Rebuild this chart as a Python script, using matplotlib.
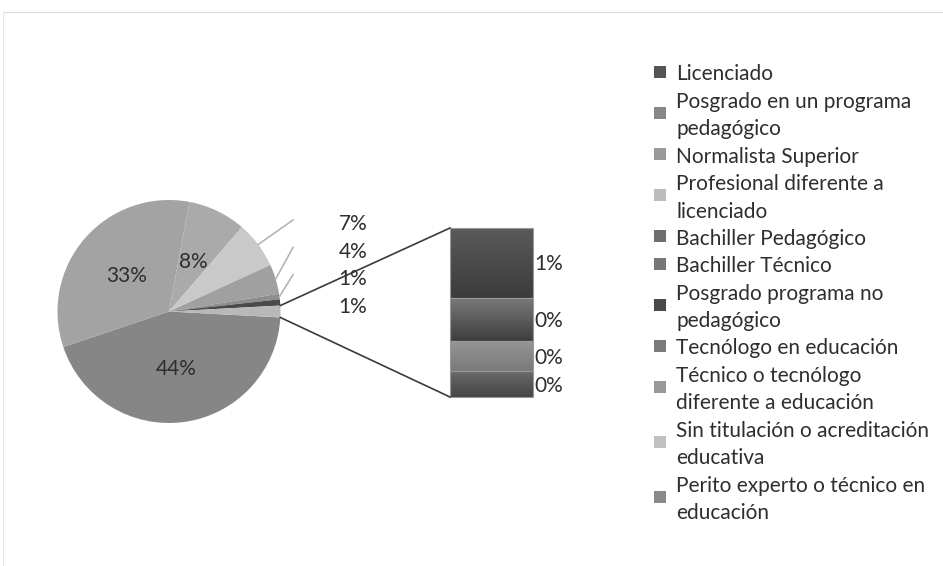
import numpy as np
import matplotlib.pyplot as plt
from matplotlib.patches import Rectangle
from matplotlib.colors import to_rgb

plt.rcParams['font.family'] = ['Lato', 'DejaVu Sans']

####################################################################################
### Data
####################################################################################

categorias = [
    "Licenciado",
    "Posgrado en un programa\npedagógico",
    "Normalista Superior",
    "Profesional diferente a\nlicenciado",
    "Bachiller Pedagógico",
    "Bachiller Técnico",
    "Posgrado programa no\npedagógico",
    "Tecnólogo en educación",
    "Técnico o tecnólogo\ndiferente a educación",
    "Sin titulación o acreditación\neducativa",
    "Perito experto o técnico en\neducación",
]
porcentajes = [44.0, 33.1, 8.4, 6.8, 4.3, 0.8, 0.9, 0.7, 0.44, 0.3, 0.26]
n_pie = 7  # the rest goes to the bar

pie_vals = porcentajes[:n_pie] + [sum(porcentajes[n_pie:])]
bar_vals = porcentajes[n_pie:]

####################################################################################
### Styles
####################################################################################

pie_colors = ['#868686', '#a3a3a3', '#aaaaaa', '#c9c9c9', '#a0a0a0', '#8e8e8e', '#4a4a4a', '#b8b8b8']
legend_colors = ['#555555', '#878787', '#9a9a9a', '#bcbcbc', '#6e6e6e', '#777777', '#4a4a4a',
                 '#7a7a7a', '#999999', '#c0c0c0', '#8a8a8a']
bar_grad = [('#5a5a5a', '#3c3c3c'), ('#7a7a7a', '#3e3e3e'), ('#959595', '#7a7a7a'), ('#6a6a6a', '#454545')]
text_c = '#2e2e2e'
fs = 15
cap_half = 7.5  # half cap height in px, used to centre text on a line

W, H = 943, 566
fig = plt.figure(figsize=(W / 100, H / 100), dpi=100)
fig.patch.set_facecolor('white')
ax = fig.add_axes([0, 0, 1, 1])

def label(x, y, s, ha='center'):
    ax.text(x, y - cap_half, s, ha=ha, va='baseline', fontsize=fs, color=text_c, zorder=5)

####################################################################################
### Pie (pixel coordinates, y up)
####################################################################################

pc = (169, 254.5)
R = 111.5
tot = sum(pie_vals)
other_deg = pie_vals[-1] * 360 / tot
wedges, _ = ax.pie(pie_vals, center=pc, radius=R, counterclock=False,
                   startangle=-other_deg / 2, colors=pie_colors,
                   wedgeprops=dict(linewidth=0))

def pct(v):
    return f"{round(v / tot * 100):.0f}%"

def mid_angle(w):
    return np.deg2rad((w.theta1 + w.theta2) / 2)

# labels inside the pie
for i in range(3):
    a = mid_angle(wedges[i])
    label(pc[0] + 0.51 * R * np.cos(a), pc[1] + 0.51 * R * np.sin(a), pct(pie_vals[i]))

# labels outside with leader lines
lab_x = 353
lab_y0 = H - 223
lab_dy = 27.4
for k, i in enumerate(range(3, n_pie)):
    ly = lab_y0 - k * lab_dy
    label(lab_x, ly, pct(pie_vals[i]))
    if k < 3:
        a = mid_angle(wedges[i])
        ax.plot([pc[0] + R * np.cos(a), 293], [pc[1] + R * np.sin(a), ly + 3],
                color='#b5b5b5', lw=1.2)

####################################################################################
### Bar of the small categories
####################################################################################

bar_x = 491.5
bar_w = 83
bar_bottom = H - 397
bar_h = 169
scale = bar_h / sum(bar_vals)
heights = [v * scale for v in bar_vals[::-1]]
bottoms = bar_bottom + np.concatenate([[0], np.cumsum(heights)[:-1]])
bars = ax.bar(bar_x, heights, bottom=bottoms, width=bar_w, color='none',
              edgecolor='#9a9a9a', linewidth=0.8, zorder=3)

for p, (ctop, cbot) in zip(bars.patches, bar_grad[::-1]):
    x0, y0 = p.get_x(), p.get_y()
    x1, y1 = x0 + p.get_width(), y0 + p.get_height()
    t = np.linspace(0, 1, 64)[:, None]
    img = (1 - t) * np.array(to_rgb(cbot)) + t * np.array(to_rgb(ctop))
    im = ax.imshow(img[:, None, :].repeat(2, axis=1), extent=(x0, x1, y0, y1),
                   origin='lower', aspect='auto', zorder=2)
    im.set_clip_path(p)

for p, v in zip(bars.patches, bar_vals[::-1]):
    label(p.get_x() + p.get_width() + 1, p.get_y() + p.get_height() / 2, pct(v), ha='left')

# connector lines from the "other" slice to the bar
a_top = np.deg2rad(other_deg / 2)
ax.plot([pc[0] + R * np.cos(a_top), bar_x - bar_w / 2],
        [pc[1] + R * np.sin(a_top), bar_bottom + bar_h], color='#3a3a3a', lw=1.2, zorder=4)
ax.plot([pc[0] + R * np.cos(-a_top), bar_x - bar_w / 2],
        [pc[1] + R * np.sin(-a_top), bar_bottom], color='#3a3a3a', lw=1.2, zorder=4)

####################################################################################
### Legend (drawn by hand to keep Excel's line pitch)
####################################################################################

leg_x_box = 654
leg_x_txt = 676
leg_y0 = H - 73
pitch = 27.4
box = 12
line = 0
for cat, col in zip(categorias, legend_colors):
    rows = cat.split('\n')
    ys = [leg_y0 - (line + j) * pitch for j in range(len(rows))]
    for y, s in zip(ys, rows):
        label(leg_x_txt, y, s, ha='left')
    yc = np.mean(ys)
    ax.add_patch(Rectangle((leg_x_box, yc - box / 2 + 1), box, box, facecolor=col, edgecolor='none'))
    line += len(rows)

# chart frame (only top and left visible)
ax.plot([3, W], [H - 12, H - 12], color='#dddddd', lw=0.8)
ax.plot([3, 3], [0, H - 12], color='#e6e6e6', lw=0.8)

ax.set_xlim(0, W)
ax.set_ylim(0, H)
ax.set_aspect('auto')
ax.axis('off')

fig.savefig('out.png', dpi=100)
